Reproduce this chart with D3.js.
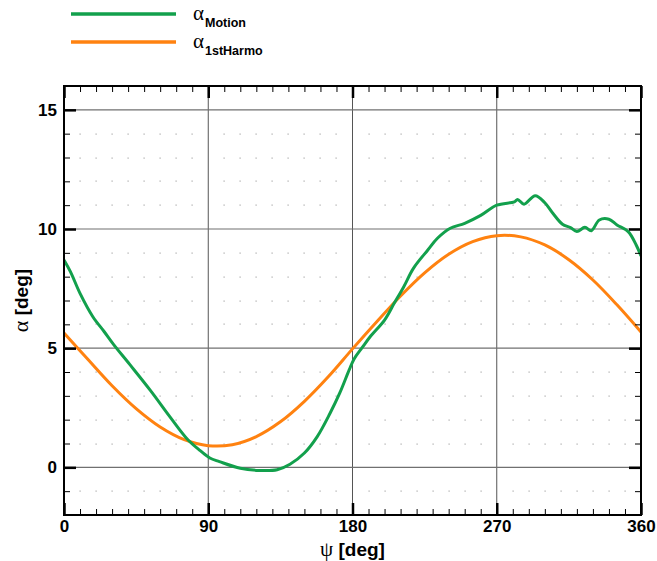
<!DOCTYPE html>
<html>
<head>
<meta charset="utf-8">
<script src="https://cdn.jsdelivr.net/npm/d3@7"></script>
<style>
  html, body { margin: 0; padding: 0; background: #fff; }
  svg { display: block; }
</style>
</head>
<body>
<svg id="chart" width="657" height="561"></svg>
<script>
// Blade pitch angle alpha against azimuth psi
const harmoPsi   = [0, 15, 30, 45, 60, 75, 90, 105, 120, 135, 150, 165, 180,
                    195, 210, 225, 240, 255, 270, 285, 300, 315, 330, 345, 360];
const harmoAlpha = [5.64, 4.52, 3.42, 2.46, 1.69, 1.16, 0.91, 0.95, 1.29, 1.91, 2.77, 3.81, 4.97,
                    6.10, 7.19, 8.16, 8.94, 9.47, 9.72, 9.67, 9.33, 8.71, 7.86, 6.82, 5.68];

const motionPsi   = [0, 4, 10, 18, 25, 31, 41, 54, 66, 77, 85, 91, 97, 110, 122, 133, 141,
                     150, 158, 166, 172, 178, 181, 186, 191, 200, 206, 212, 218, 227, 233, 241,
                     250, 260, 270, 281, 283, 287, 294, 300, 305, 311, 316, 320, 325, 329, 334,
                     340, 345, 352, 357, 360];
const motionAlpha = [8.70, 8.21, 7.30, 6.32, 5.70, 5.15, 4.32, 3.22, 2.13, 1.18, 0.70, 0.39, 0.24,
                     -0.04, -0.13, -0.10, 0.13, 0.60, 1.29, 2.27, 3.11, 4.10, 4.55, 5.02, 5.48,
                     6.18, 6.88, 7.58, 8.35, 9.12, 9.61, 10.03, 10.24, 10.57, 11.00, 11.14, 11.24,
                     11.04, 11.40, 11.10, 10.66, 10.20, 10.06, 9.89, 10.07, 9.93, 10.38, 10.41,
                     10.17, 9.89, 9.33, 8.87];

const xTicks = [0, 90, 180, 270, 360];
const yTicks = [0, 5, 10, 15];
const xMinor = d3.range(0, 361, 10);
const yMinor = d3.range(-2, 16.01, 1);

const seriesNames = ["Motion", "1stHarmo"];
const seriesColors = ["#12a04c", "#ff8210"];

const svg = d3.select("#chart");
const W = 657, H = 561;
const m = { left: 64, right: 16, top: 86, bottom: 46 };

const x = d3.scaleLinear().domain([0, 360]).range([m.left, W - m.right]);
const y = d3.scaleLinear().domain([-2, 16]).range([H - m.bottom, m.top]);

const plot = svg.append("g");

// dotted minor grid: one dot per minor intersection
const dots = [];
xMinor.forEach(px => {
  if (px % 90 === 0) return;
  yMinor.forEach(py => {
    if (py % 5 === 0 || py <= -2 || py >= 16) return;
    dots.push([px, py]);
  });
});
plot.append("g").selectAll("rect").data(dots).join("rect")
  .attr("x", d => Math.round(x(d[0])) - 0.5)
  .attr("y", d => Math.round(y(d[1])) - 0.5)
  .attr("width", 1.2).attr("height", 1.2)
  .attr("fill", "#a8a8a8");

// major grid lines
plot.append("g").selectAll("line").data(xTicks.slice(1, -1)).join("line")
  .attr("x1", d => x(d)).attr("x2", d => x(d))
  .attr("y1", y(-2)).attr("y2", y(16))
  .attr("stroke", "#555").attr("stroke-width", 1);
plot.append("g").selectAll("line").data(yTicks).join("line")
  .attr("x1", x(0)).attr("x2", x(360))
  .attr("y1", d => y(d)).attr("y2", d => y(d))
  .attr("stroke", "#707070").attr("stroke-width", 1.2);

// data curves
const line = d3.line().x(d => x(d[0])).y(d => y(d[1])).curve(d3.curveCatmullRom.alpha(0.5));
const motion = motionPsi.map((p, i) => [p, motionAlpha[i]]);
const harmo = harmoPsi.map((p, i) => [p, harmoAlpha[i]]);

svg.append("clipPath").attr("id", "clip").append("rect")
  .attr("x", x(0)).attr("y", y(16)).attr("width", x(360) - x(0)).attr("height", y(-2) - y(16));

plot.append("path").datum(harmo).attr("d", line)
  .attr("fill", "none").attr("stroke", seriesColors[1]).attr("stroke-width", 3)
  .attr("clip-path", "url(#clip)");
plot.append("path").datum(motion).attr("d", line)
  .attr("fill", "none").attr("stroke", seriesColors[0]).attr("stroke-width", 3)
  .attr("stroke-linejoin", "round")
  .attr("clip-path", "url(#clip)");

// axes: inward ticks on all four sides
const tickFont = "'Liberation Sans', Arial, Helvetica, sans-serif";
function styleAxis(g) {
  g.select(".domain").remove();
  g.selectAll(".tick line").attr("stroke", "#000");
  g.selectAll(".tick text").attr("fill", "#000")
    .style("font-family", tickFont).style("font-weight", "bold").style("font-size", "17px");
}

// minor ticks
svg.append("g").attr("transform", `translate(0,${y(-2)})`)
  .call(d3.axisBottom(x).tickValues(xMinor).tickSize(-6).tickFormat(""))
  .call(styleAxis);
svg.append("g").attr("transform", `translate(0,${y(16)})`)
  .call(d3.axisTop(x).tickValues(xMinor).tickSize(-6).tickFormat(""))
  .call(styleAxis);
svg.append("g").attr("transform", `translate(${x(0)},0)`)
  .call(d3.axisLeft(y).tickValues(yMinor).tickSize(-6).tickFormat(""))
  .call(styleAxis);
svg.append("g").attr("transform", `translate(${x(360)},0)`)
  .call(d3.axisRight(y).tickValues(yMinor).tickSize(-6).tickFormat(""))
  .call(styleAxis);

// major ticks with labels
const xb = svg.append("g").attr("transform", `translate(0,${y(-2)})`)
  .call(d3.axisBottom(x).tickValues(xTicks).tickSize(-12).tickPadding(5).tickFormat(d3.format("d")))
  .call(styleAxis);
xb.selectAll(".tick line").attr("stroke-width", 2.5);
svg.append("g").attr("transform", `translate(0,${y(16)})`)
  .call(d3.axisTop(x).tickValues(xTicks).tickSize(-12).tickFormat(""))
  .call(styleAxis).selectAll(".tick line").attr("stroke-width", 2.5);
const yl = svg.append("g").attr("transform", `translate(${x(0)},0)`)
  .call(d3.axisLeft(y).tickValues(yTicks).tickSize(-12).tickPadding(7).tickFormat(d3.format("d")))
  .call(styleAxis);
yl.selectAll(".tick line").attr("stroke-width", 2.5);
svg.append("g").attr("transform", `translate(${x(360)},0)`)
  .call(d3.axisRight(y).tickValues(yTicks).tickSize(-12).tickFormat(""))
  .call(styleAxis).selectAll(".tick line").attr("stroke-width", 2.5);

// frame
svg.append("rect")
  .attr("x", x(0)).attr("y", y(16))
  .attr("width", x(360) - x(0)).attr("height", y(-2) - y(16))
  .attr("fill", "none").attr("stroke", "#000").attr("stroke-width", 2);

// axis titles
const greekFont = "'Liberation Serif', 'DejaVu Serif', serif";
const xt = svg.append("text")
  .attr("x", (x(0) + x(360)) / 2).attr("y", 556)
  .attr("text-anchor", "middle")
  .style("font-family", tickFont).style("font-size", "19px").style("font-weight", "bold");
xt.append("tspan").text("ψ").style("font-family", greekFont).style("font-weight", "normal").style("font-size", "21px");
xt.append("tspan").text(" [deg]");

const yt = svg.append("text")
  .attr("transform", `translate(28,${(y(-2) + y(16)) / 2}) rotate(-90)`)
  .attr("text-anchor", "middle")
  .style("font-family", tickFont).style("font-size", "19px").style("font-weight", "bold");
yt.append("tspan").text("α").style("font-family", greekFont).style("font-weight", "normal").style("font-size", "22px");
yt.append("tspan").text(" [deg]");

// legend
const legend = svg.append("g");
seriesNames.forEach((name, i) => {
  const ly = 14 + i * 28;
  legend.append("line")
    .attr("x1", 71).attr("x2", 176).attr("y1", ly).attr("y2", ly)
    .attr("stroke", seriesColors[i]).attr("stroke-width", 3.5);
  const t = legend.append("text").attr("x", 193).attr("y", ly + 6);
  t.append("tspan").text("α")
    .style("font-family", greekFont).style("font-size", "21px");
  t.append("tspan").text(name).attr("dy", 7).attr("dx", 1)
    .style("font-family", tickFont).style("font-weight", "bold").style("font-size", "12.5px");
});
</script>
</body>
</html>
